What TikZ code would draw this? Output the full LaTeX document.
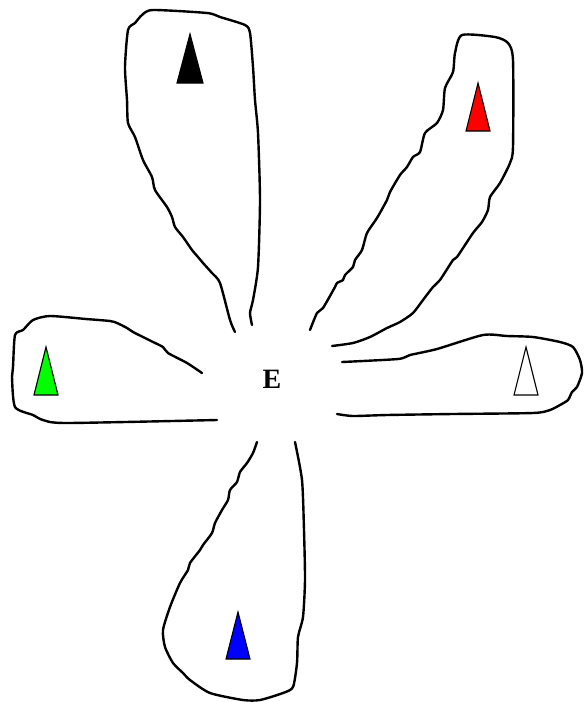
\documentclass[tikz,border=0pt]{standalone}
\usepackage{fontspec}
\setmainfont{Liberation Serif}
\begin{document}
\begin{tikzpicture}[x=1pt,y=-1pt,
  petal/.style={line width=2.4pt,line join=round,line cap=round},
  marker/.style={draw=black,line width=1.1pt,line join=miter},
  label/.style={font=\bfseries\fontsize{28}{32}\selectfont,inner sep=0pt}]
\useasboundingbox[fill=white] (0,0) rectangle (586,702);
% top petal (black)
\draw[petal] plot[smooth,tension=0.4] coordinates {(235,332) (230,320) (220,283) (212,273) (203,263) (198,257) (192,250) (183,237) (175,227) (172,217) (167,207) (155,190) (152,177) (143,160) (135,137) (128,123) (127,100) (125,67) (128,30) (135,23) (142,15) (153,10) (207,13) (220,17) (245,25) (250,33) (253,67) (255,100) (258,133) (260,200) (258,267) (253,300) (250,313) (252,325)};
% red petal
\draw[petal] plot[smooth,tension=0.4] coordinates {(310,330) (317,313) (323,308) (335,287) (337,283) (343,280) (345,275) (353,267) (355,260) (362,250) (367,233) (377,218) (387,200) (390,192) (400,175) (407,167) (413,157) (420,152) (425,133) (437,123) (443,110) (445,88) (453,72) (455,53) (462,35) (495,37) (508,43) (513,60) (513,147) (510,163) (500,183) (490,197) (488,210) (482,222) (473,233) (457,257) (453,260) (440,280) (433,287) (423,300) (413,313) (400,322) (387,328) (370,337) (353,343) (332,346)};
% green petal
\draw[petal] plot[smooth,tension=0.4] coordinates {(202,373) (187,363) (168,353) (163,347) (153,342) (143,337) (133,332) (127,328) (117,323) (110,321) (86,319) (50,316) (33,320) (23,330) (15,335) (13,367) (12,377) (15,407) (33,415) (43,420) (67,423) (217,420)};
% white petal
\draw[petal] plot[smooth,tension=0.4] coordinates {(342,362) (398,359) (410,355) (437,349) (483,335) (507,336) (533,337) (560,342) (573,347) (580,360) (582,373) (577,387) (572,392) (568,400) (560,405) (550,410) (533,413) (453,414) (387,415) (353,416) (337,414)};
% blue petal
\draw[petal] plot[smooth,tension=0.4] coordinates {(257,442) (253,453) (247,463) (240,472) (237,482) (230,490) (228,500) (222,510) (215,523) (212,533) (203,545) (200,550) (190,563) (188,570) (180,583) (170,607) (163,630) (165,647) (173,663) (183,673) (190,680) (210,693) (243,700) (260,700) (283,693) (293,687) (297,663) (298,637) (303,617) (305,580) (304,530) (302,480) (295,442)};
% markers
\draw[marker,fill=black] (190,34) -- (203,83) -- (177,83) -- cycle;
\draw[marker,fill=red] (478,83) -- (490,131) -- (466,131) -- cycle;
\draw[marker,fill=green] (46,347) -- (58,395) -- (34,395) -- cycle;
\draw[marker,fill=white] (526,347) -- (538,395) -- (514,395) -- cycle;
\draw[marker,fill=blue] (238,612) -- (250,659) -- (226,659) -- cycle;
\node[label] (E) at (272,379) {E};
\end{tikzpicture}
\end{document}
